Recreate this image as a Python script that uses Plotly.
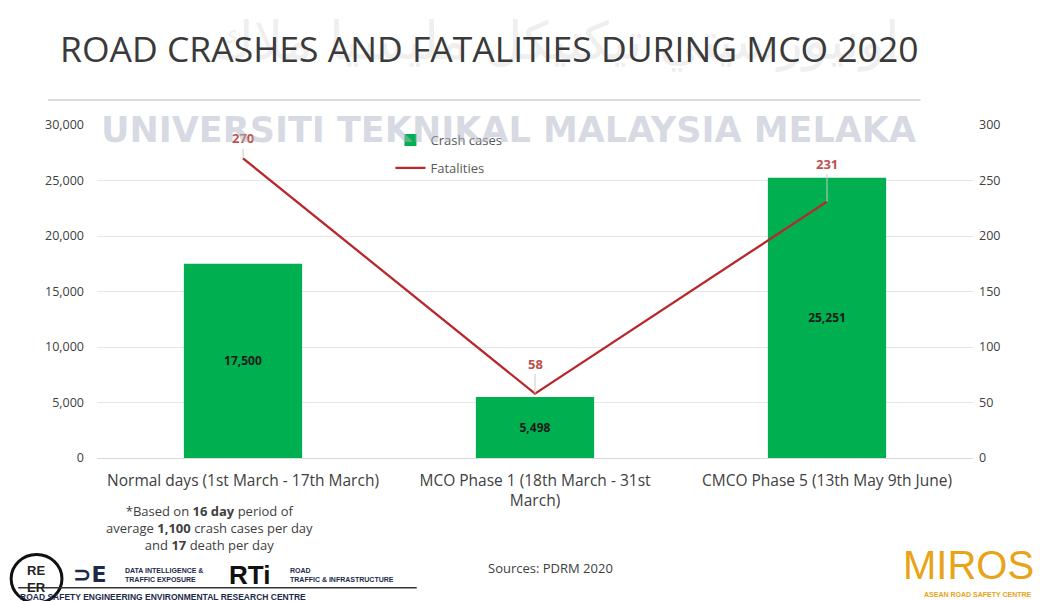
import plotly.graph_objects as go

categories = ["Normal days (1st March - 17th March)",
              "MCO Phase 1 (18th March - 31st<br>March)",
              "CMCO Phase 5 (13th May 9th June)"]
crash_cases = [17500, 5498, 25251]
fatalities = [270, 58, 231]
crash_labels = ["17,500", "5,498", "25,251"]
left_ticks = [0, 5000, 10000, 15000, 20000, 25000, 30000]
right_ticks = [0, 50, 100, 150, 200, 250, 300]
label_offsets = [-20, -30, -38]

FONT = "Open Sans"
GREEN = "#00B050"
RED = "#B8282B"

fig = go.Figure()
fig.add_trace(go.Bar(x=categories, y=crash_cases, name="Crash cases", legendgroup="a",
                     marker=dict(color=GREEN, line=dict(width=0)),
                     text=["<b>%s</b>" % t for t in crash_labels], textposition="inside",
                     insidetextanchor="middle",
                     textfont=dict(color="#1a1a1a", size=12, family=FONT), width=0.405))
fig.add_trace(go.Scatter(x=categories, y=fatalities, name="Fatalities", yaxis="y2", legendgroup="b",
                         mode="lines", line=dict(color=RED, width=2.3)))

for c, v, off in zip(categories, fatalities, label_offsets):
    fig.add_annotation(x=c, y=v, yref="y2", text="<b>%d</b>" % v, showarrow=True,
                       arrowhead=0, arrowwidth=1, arrowcolor="#c9c9c9", ax=0, ay=off,
                       font=dict(color="#C0504D", size=13, family=FONT))

fig.update_layout(
    width=1042, height=601,
    margin=dict(l=97, r=69, t=125, b=143),
    paper_bgcolor="white", plot_bgcolor="white",
    font=dict(family=FONT, color="#595959", size=13),
    showlegend=True,
    legend=dict(x=0.335, y=1.0, xanchor="left", yanchor="top",
                font=dict(size=13, color="#595959", family=FONT),
                bgcolor="rgba(0,0,0,0)", tracegroupgap=8, itemwidth=30),
    xaxis=dict(showline=True, linecolor="#d9d9d9", ticks="", ticklabelstandoff=8,
               tickfont=dict(size=15.5, color="#404040"), showgrid=False),
    yaxis=dict(range=[0, 30000], tickvals=left_ticks, tickformat=",", showgrid=True,
               gridcolor="#e6e6e6", zeroline=False, ticks="", ticklabelstandoff=12,
               tickfont=dict(size=12.5, color="#404040")),
    yaxis2=dict(range=[0, 300], tickvals=right_ticks, overlaying="y", side="right", showgrid=False,
                zeroline=False, ticks="", ticklabelstandoff=5, tickfont=dict(size=12.5, color="#404040")),
)

# faint Jawi watermark at top
fig.add_annotation(xref="paper", yref="paper", x=0.523, y=1.25, xanchor="center", yanchor="middle",
                   text="اونيورسيتي تيكنيكل مليسيا ملاك", showarrow=False,
                   font=dict(family="DejaVu Sans", size=52, color="#efefef"))
# title
fig.add_annotation(xref="paper", yref="paper", x=-0.045, y=1.231, xanchor="left", yanchor="middle",
                   text="ROAD CRASHES AND FATALITIES DURING MCO 2020", showarrow=False,
                   font=dict(family=FONT, size=35.5, color="#3a3a3a"))
fig.add_shape(type="line", xref="paper", yref="paper", x0=-0.056, x1=0.94, y0=1.075, y1=1.075,
              line=dict(color="#d9d9d9", width=2))
# watermark text
fig.add_annotation(xref="paper", yref="paper", x=0.47, y=0.985, xanchor="center", yanchor="middle",
                   text="<b>UNIVERSITI TEKNIKAL MALAYSIA MELAKA</b>", showarrow=False,
                   font=dict(family="DejaVu Sans", size=35, color="rgba(175,182,200,0.5)"))
# footnote
fig.add_annotation(xref="paper", yref="paper", x=0.128, y=-0.125, xanchor="center", yanchor="top",
                   text="*Based on <b>16 day</b> period of<br>average <b>1,100</b> crash cases per day<br>and <b>17</b> death per day",
                   showarrow=False, align="center", font=dict(size=13, color="#404040", family=FONT))
fig.add_annotation(xref="paper", yref="paper", x=0.518, y=-0.33, xanchor="center", yanchor="middle",
                   text="Sources: PDRM 2020", showarrow=False, font=dict(size=13, color="#404040", family=FONT))

# bottom-left logos (approximated as text)
fig.add_shape(type="circle", xref="paper", yref="paper", x0=-0.098, x1=-0.04, y0=-0.435, y1=-0.29,
              line=dict(color="#111", width=3))
fig.add_annotation(xref="paper", yref="paper", x=-0.069, y=-0.362, xanchor="center", yanchor="middle",
                   text="<b>RE<br>ER</b>", showarrow=False, font=dict(size=13, color="#222", family="Liberation Sans"))
fig.add_annotation(xref="paper", yref="paper", x=-0.03, y=-0.35, xanchor="left", yanchor="middle",
                   text="<b>⊃E</b>", showarrow=False, font=dict(size=22, color="#1c2a4a", family="DejaVu Sans"))
fig.add_annotation(xref="paper", yref="paper", x=0.03, y=-0.35, xanchor="left", yanchor="middle",
                   text="<b>DATA INTELLIGENCE &<br>TRAFFIC EXPOSURE</b>", showarrow=False, align="left",
                   font=dict(size=7, color="#1c2a4a", family="Liberation Sans"))
fig.add_annotation(xref="paper", yref="paper", x=0.148, y=-0.35, xanchor="left", yanchor="middle",
                   text="<b>RTi</b>", showarrow=False, font=dict(size=26, color="#111", family="Liberation Sans"))
fig.add_annotation(xref="paper", yref="paper", x=0.218, y=-0.35, xanchor="left", yanchor="middle",
                   text="<b>ROAD<br>TRAFFIC & INFRASTRUCTURE</b>", showarrow=False, align="left",
                   font=dict(size=7, color="#1c2a4a", family="Liberation Sans"))
fig.add_shape(type="line", xref="paper", yref="paper", x0=-0.09, x1=0.365, y0=-0.39, y1=-0.39,
              line=dict(color="#333", width=1.5))
fig.add_annotation(xref="paper", yref="paper", x=-0.09, y=-0.418, xanchor="left", yanchor="middle",
                   text="<b>ROAD SAFETY ENGINEERING ENVIRONMENTAL RESEARCH CENTRE</b>", showarrow=False,
                   font=dict(size=8.5, color="#1c2a4a", family="Liberation Sans"))
# bottom-right logo
fig.add_annotation(xref="paper", yref="paper", x=1.072, y=-0.32, xanchor="right", yanchor="middle",
                   text="MIROS", showarrow=False, font=dict(size=40, color="#E8A317", family="Liberation Sans"))
fig.add_annotation(xref="paper", yref="paper", x=1.07, y=-0.41, xanchor="right", yanchor="middle",
                   text="<b>ASEAN ROAD SAFETY CENTRE</b>", showarrow=False,
                   font=dict(size=7, color="#E8A317", family="Liberation Sans"))

fig.write_html("out.html")
